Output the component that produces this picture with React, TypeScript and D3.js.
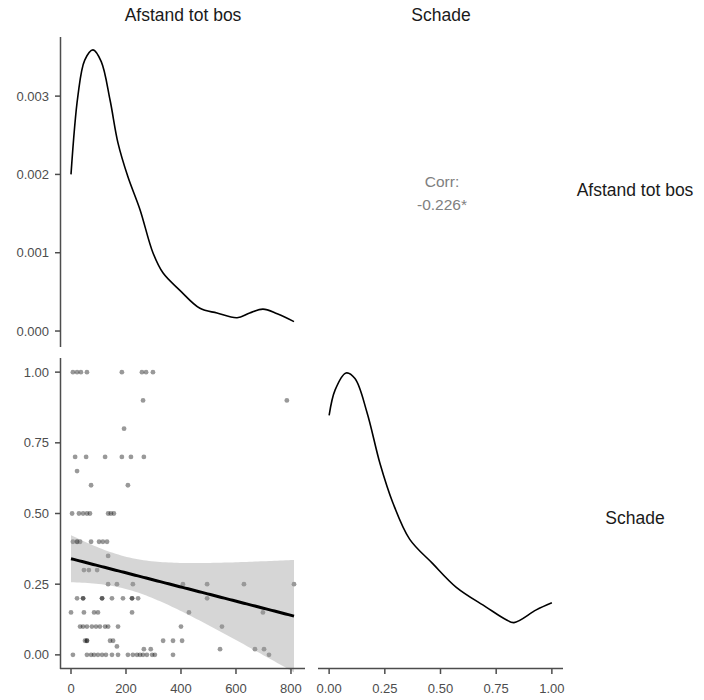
import React from "react";
import * as d3 from "d3";

// variable names (strip labels)
const varNames = ["Afstand tot bos", "Schade"];

// scatter data: Schade levels and the Afstand values seen at each level
const schadeLevels = [1, 0.9, 0.8, 0.7, 0.65, 0.6, 0.5, 0.4, 0.35, 0.3, 0.25, 0.2, 0.15, 0.1, 0.05, 0.03, 0.02, 0];
const afstandPerLevel = [
  [7, 22, 36, 58, 185, 258, 273, 298],
  [262, 785],
  [193],
  [15, 55, 124, 185, 218, 265],
  [22],
  [73, 207],
  [4, 29, 44, 58, 69, 135, 145, 156],
  [7, 22, 22, 33, 73, 102, 116, 131],
  [135],
  [47, 65, 95],
  [135, 167, 225, 407, 495, 629, 811],
  [22, 44, 44, 113, 113, 149, 189, 222, 222, 244, 495],
  [0, 47, 84, 98, 222, 429, 698],
  [33, 44, 58, 76, 91, 105, 124, 135, 171, 400, 549],
  [51, 58, 58, 142, 153, 335, 371, 404],
  [167],
  [265, 290, 542, 669, 702],
  [7, 58, 73, 84, 98, 113, 127, 149, 171, 207, 225, 240, 251, 262, 276, 295, 305, 371, 720],
];

// density of Afstand tot bos
const densAfstandX = [0, 25, 50, 80, 110, 142, 171, 207, 251, 298, 335, 396, 469, 531, 604, 650, 698, 750, 811];
const densAfstandY = [0.002, 0.003, 0.00346, 0.00359, 0.00344, 0.00295, 0.0024, 0.00197, 0.00155, 0.001, 0.00074, 0.00052, 0.00029, 0.00023, 0.00017, 0.00023, 0.00028, 0.00022, 0.00012];

// density of Schade
const densSchadeX = [0, 0.027, 0.076, 0.116, 0.17, 0.228, 0.286, 0.362, 0.464, 0.571, 0.705, 0.795, 0.83, 0.93, 1];
const densSchadeY = [1.7, 1.88, 2.0, 1.96, 1.72, 1.36, 1.08, 0.82, 0.65, 0.48, 0.34, 0.25, 0.23, 0.32, 0.37];

const afstandTicks = [0, 200, 400, 600, 800];
const schadeTicks = [0, 0.25, 0.5, 0.75, 1];
const densTicks = [0, 0.001, 0.002, 0.003];
const corrText = ["Corr:", "-0.226*"];

const FONT = "'Liberation Sans', Arial, sans-serif";
const AXIS = "#4d4d4d";

const App = () => {
  const points = schadeLevels.flatMap((s, i) => afstandPerLevel[i].map(a => ({ a, s })));

  const xA = d3.scaleLinear().domain([-40, 851]).range([60, 305]);
  const xS = d3.scaleLinear().domain([-0.05, 1.05]).range([318, 563]);
  const yS = d3.scaleLinear().domain([-0.05, 1.05]).range([669, 358]);
  const yD = d3.scaleLinear().domain([-0.000204, 0.003755]).range([347, 37]);
  const yD2 = d3.scaleLinear().domain([-0.099, 2.106]).range([669, 358]);

  // linear fit with 95% band
  const n = points.length;
  const mx = d3.mean(points, d => d.a);
  const my = d3.mean(points, d => d.s);
  const sxx = d3.sum(points, d => (d.a - mx) ** 2);
  const sxy = d3.sum(points, d => (d.a - mx) * (d.s - my));
  const b = sxy / sxx;
  const a0 = my - b * mx;
  const s2 = d3.sum(points, d => (d.s - (a0 + b * d.a)) ** 2) / (n - 2);
  const tq = 1.98;
  const [minA, maxA] = d3.extent(points, d => d.a);
  const fitXs = d3.range(0, 81).map(i => minA + ((maxA - minA) * i) / 80);
  const fit = fitXs.map(x => {
    const yh = a0 + b * x;
    const se = Math.sqrt(s2 * (1 / n + (x - mx) ** 2 / sxx));
    return { x, yh, lo: yh - tq * se, hi: yh + tq * se };
  });

  const band = d3.area().x(d => xA(d.x)).y0(d => yS(d.lo)).y1(d => yS(d.hi))(fit);
  const fitLine = d3.line().x(d => xA(d.x)).y(d => yS(d.yh))(fit);

  const densA = d3
    .line()
    .curve(d3.curveCatmullRom)
    .x((d, i) => xA(densAfstandX[i]))
    .y(d => yD(d))(densAfstandY);
  const densS = d3
    .line()
    .curve(d3.curveCatmullRom)
    .x((d, i) => xS(densSchadeX[i]))
    .y(d => yD2(d))(densSchadeY);

  const yAxis = (scale, ticks, fmt, y0, y1) => (
    <g>
      <line x1={60.5} x2={60.5} y1={y0} y2={y1} stroke={AXIS} strokeWidth={1.5} />
      {ticks.map(t => (
        <g key={t}>
          <line x1={55} x2={60} y1={scale(t)} y2={scale(t)} stroke={AXIS} strokeWidth={1.5} />
          <text x={49} y={scale(t)} dy="0.35em" textAnchor="end" fontSize={13} fill={AXIS}>
            {fmt(t)}
          </text>
        </g>
      ))}
    </g>
  );

  const xAxis = (scale, ticks, fmt, x0, x1) => (
    <g>
      <line x1={x0} x2={x1} y1={668.5} y2={668.5} stroke={AXIS} strokeWidth={1.5} />
      {ticks.map(t => (
        <g key={t}>
          <line x1={scale(t)} x2={scale(t)} y1={669} y2={674} stroke={AXIS} strokeWidth={1.5} />
          <text x={scale(t)} y={693} textAnchor="middle" fontSize={13} fill={AXIS}>
            {fmt(t)}
          </text>
        </g>
      ))}
    </g>
  );

  return (
    <div style={{ position: "absolute", left: 0, top: 0 }}>
      <svg width={704} height={700} style={{ display: "block", fontFamily: FONT }}>
        <rect width={704} height={700} fill="#fff" />

        {/* strip labels */}
        <text x={183} y={21} textAnchor="middle" fontSize={17.5} fill="#1a1a1a">{varNames[0]}</text>
        <text x={441} y={21} textAnchor="middle" fontSize={17.5} fill="#1a1a1a">{varNames[1]}</text>
        <text x={635} y={196} textAnchor="middle" fontSize={17.5} fill="#1a1a1a">{varNames[0]}</text>
        <text x={635} y={524} textAnchor="middle" fontSize={17.5} fill="#1a1a1a">{varNames[1]}</text>

        {/* top-left density */}
        <path d={densA} fill="none" stroke="#000" strokeWidth={1.6} />
        {yAxis(yD, densTicks, d3.format(".3f"), 37, 347)}

        {/* correlation */}
        <text x={442} y={187} textAnchor="middle" fontSize={15.5} fill="#808080">{corrText[0]}</text>
        <text x={442} y={210} textAnchor="middle" fontSize={15.5} fill="#808080">{corrText[1]}</text>

        {/* scatter with fit */}
        {points.map((d, i) => (
          <circle key={i} cx={xA(d.a)} cy={yS(d.s)} r={2.4} fill="#000" fillOpacity={0.4} />
        ))}
        <path d={band} fill="#999" fillOpacity={0.4} />
        <path d={fitLine} fill="none" stroke="#000" strokeWidth={3} />
        {yAxis(yS, schadeTicks, d3.format(".2f"), 358, 669)}
        {xAxis(xA, afstandTicks, d3.format("d"), 60, 305)}

        {/* bottom-right density */}
        <path d={densS} fill="none" stroke="#000" strokeWidth={1.6} />
        {xAxis(xS, schadeTicks, d3.format(".2f"), 318, 563)}
      </svg>
    </div>
  );
};

export default App;
